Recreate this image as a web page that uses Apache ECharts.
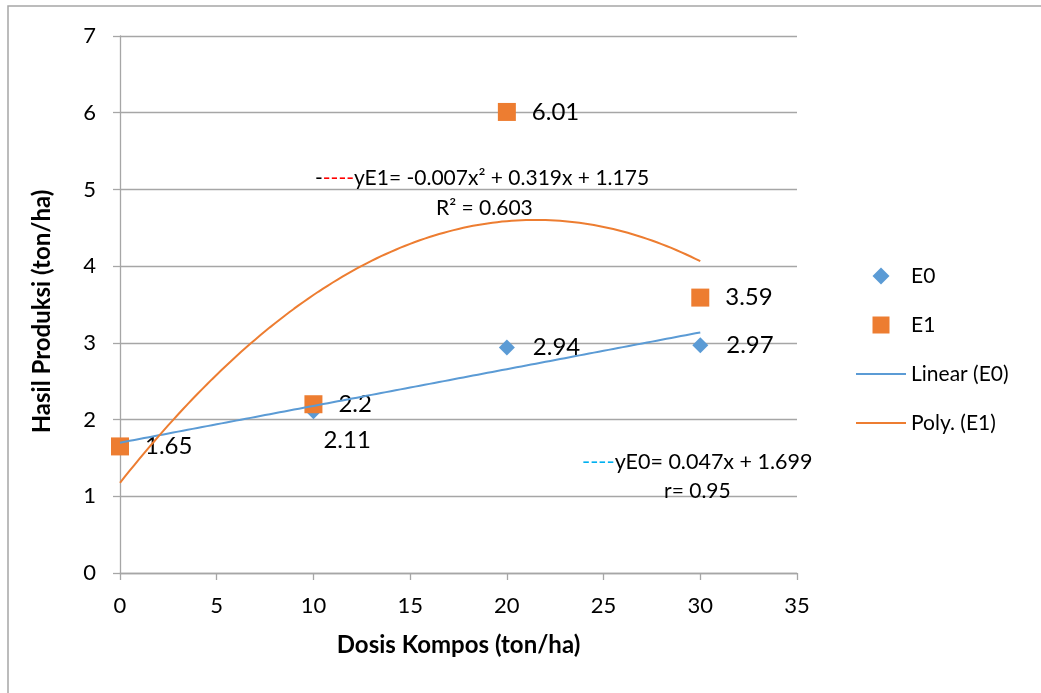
<!DOCTYPE html>
<html>
<head>
<meta charset="utf-8">
<script src="https://cdn.jsdelivr.net/npm/echarts@6/dist/echarts.min.js"></script>
<style>html,body{margin:0;padding:0;background:#fff;}#c{width:1041px;height:693px;}</style>
</head>
<body>
<div id="c"></div>
<script>
var xVals = [0, 10, 20, 30];
var e0Vals = [1.65, 2.11, 2.94, 2.97];
var e1Vals = [1.65, 2.2, 6.01, 3.59];
var xTicks = [0, 5, 10, 15, 20, 25, 30, 35];
var yTicks = [0, 1, 2, 3, 4, 5, 6, 7];
var eqE1 = 'yE1= -0.007x² + 0.319x + 1.175';
var r2E1 = 'R² = 0.603';
var eqE0 = 'yE0= 0.047x + 1.699';
var rE0 = 'r= 0.95';

var FONT = 'Lato';
var BLUE = '#5B9BD5', ORANGE = '#ED7D31';

// least squares polynomial fit (degree 1 or 2) from the data
function polyFit(xs, ys, deg) {
  var n = deg + 1, A = [], b = [];
  for (var i = 0; i < n; i++) {
    A.push([]);
    for (var j = 0; j < n; j++) {
      var s = 0; xs.forEach(function (x) { s += Math.pow(x, i + j); }); A[i].push(s);
    }
    var t = 0; xs.forEach(function (x, k) { t += ys[k] * Math.pow(x, i); }); b.push(t);
  }
  for (var c = 0; c < n; c++) {
    for (var r = c + 1; r < n; r++) {
      var f = A[r][c] / A[c][c];
      for (var k = c; k < n; k++) A[r][k] -= f * A[c][k];
      b[r] -= f * b[c];
    }
  }
  var coef = new Array(n);
  for (var r2 = n - 1; r2 >= 0; r2--) {
    var s2 = b[r2];
    for (var k2 = r2 + 1; k2 < n; k2++) s2 -= A[r2][k2] * coef[k2];
    coef[r2] = s2 / A[r2][r2];
  }
  return coef;
}
function evalPoly(coef, x) { var y = 0; coef.forEach(function (c, i) { y += c * Math.pow(x, i); }); return y; }
function trend(xs, ys, deg) {
  var coef = polyFit(xs, ys, deg), out = [];
  var lo = xs[0], hi = xs[xs.length - 1];
  for (var x = lo; x <= hi + 1e-9; x += 0.25) out.push([x, evalPoly(coef, x)]);
  return out;
}

var e0Data = xVals.map(function (x, i) {
  var d = { value: [x, e0Vals[i]] };
  if (i === 0) d.label = { show: false };
  if (i === 1) d.label = { offset: [-16, 29] };
  return d;
});
var e1Data = xVals.map(function (x, i) { return [x, e1Vals[i]]; });

var chart = echarts.init(document.getElementById('c'));
var labelStyle = { color: '#000', fontFamily: FONT, fontSize: 24 };
var lineIcon = 'path://M0,0 L50,0 L50,2 L0,2 Z';
var diamondIcon = 'path://M7,0 L14,7 L7,14 L0,7 Z';
var squareIcon = 'path://M0,0 L14,0 L14,14 L0,14 Z';
chart.setOption({
  backgroundColor: '#fff',
  animation: false,
  textStyle: { fontFamily: FONT },
  grid: { left: 120, right: 244, top: 36, bottom: 120 },
  xAxis: {
    type: 'value', min: xTicks[0], max: xTicks[xTicks.length - 1], interval: 5,
    name: 'Dosis Kompos (ton/ha)', nameLocation: 'middle', nameGap: 60,
    nameTextStyle: { color: '#000', fontWeight: 'bold', fontSize: 24, fontFamily: FONT },
    axisLine: { lineStyle: { color: '#A6A6A6', width: 1.3 } },
    axisTick: { show: true, length: 7, lineStyle: { color: '#A6A6A6', width: 1.3 } },
    axisLabel: { color: '#000', fontSize: 22, margin: 22, fontFamily: FONT },
    splitLine: { show: false }
  },
  yAxis: {
    type: 'value', min: yTicks[0], max: yTicks[yTicks.length - 1], interval: 1,
    name: 'Hasil Produksi (ton/ha)', nameLocation: 'middle', nameGap: 66,
    nameTextStyle: { color: '#000', fontWeight: 'bold', fontSize: 24, fontFamily: FONT, padding: [0, 14, 0, 0] },
    axisLine: { show: true, lineStyle: { color: '#A6A6A6', width: 1.3 } },
    axisTick: { show: true, length: 7, lineStyle: { color: '#A6A6A6', width: 1.3 } },
    axisLabel: { color: '#000', fontSize: 22, margin: 24, fontFamily: FONT },
    splitLine: { show: true, lineStyle: { color: '#A6A6A6', width: 1.3 } }
  },
  legend: {
    orient: 'vertical', left: 851, top: 260, itemWidth: 50, itemHeight: 17, itemGap: 27,
    symbolKeepAspect: true,
    textStyle: { color: '#000', fontSize: 21, fontFamily: FONT, lineHeight: 22 },
    data: [
      { name: 'E0', icon: diamondIcon },
      { name: 'E1', icon: squareIcon },
      { name: 'Linear (E0)', icon: lineIcon },
      { name: 'Poly. (E1)', icon: lineIcon }
    ]
  },
  series: [
    { name: 'E0', type: 'scatter', symbol: 'diamond', symbolSize: 16, z: 2,
      itemStyle: { color: BLUE, opacity: 1 }, data: e0Data,
      label: Object.assign({ show: true, position: 'right', distance: 18, formatter: function (p) { return p.value[1]; } }, labelStyle) },
    { name: 'E1', type: 'scatter', symbol: 'rect', symbolSize: 18, z: 3,
      itemStyle: { color: ORANGE, opacity: 1 }, data: e1Data,
      label: Object.assign({ show: true, position: 'right', distance: 16, formatter: function (p) { return p.value[1]; } }, labelStyle) },
    { name: 'Linear (E0)', type: 'line', symbol: 'none', z: 4, lineStyle: { color: BLUE, width: 2 },
      itemStyle: { color: BLUE }, data: trend(xVals, e0Vals, 1) },
    { name: 'Poly. (E1)', type: 'line', symbol: 'none', smooth: false, z: 4, lineStyle: { color: ORANGE, width: 2 },
      itemStyle: { color: ORANGE }, data: trend(xVals, e1Vals, 2) }
  ],
  graphic: [
    { type: 'rect', z: -1, shape: { x: 8, y: 6, width: 1060, height: 720 }, style: { fill: 'none', stroke: '#A6A6A6', lineWidth: 1.5 } },
    { type: 'text', left: 315, top: 168, z: 10, style: {
        text: '{k|-}{r|----}' + eqE1, fontFamily: FONT, fontSize: 21, fill: '#000',
        rich: { k: { fill: '#000', fontSize: 21, fontFamily: FONT }, r: { fill: '#FF0000', fontSize: 21, fontFamily: FONT } } } },
    { type: 'text', left: 436, top: 198, z: 10, style: { text: r2E1, fontFamily: FONT, fontSize: 21, fill: '#000' } },
    { type: 'text', left: 582, top: 451, z: 10, style: {
        text: '{c|----}' + eqE0, fontFamily: FONT, fontSize: 21.5, fill: '#000',
        rich: { c: { fill: '#00B0F0', fontSize: 22, fontFamily: FONT } } } },
    { type: 'text', left: 664, top: 481, z: 10, style: { text: rE0, fontFamily: FONT, fontSize: 21, fill: '#000' } }
  ]
});
</script>
</body>
</html>
